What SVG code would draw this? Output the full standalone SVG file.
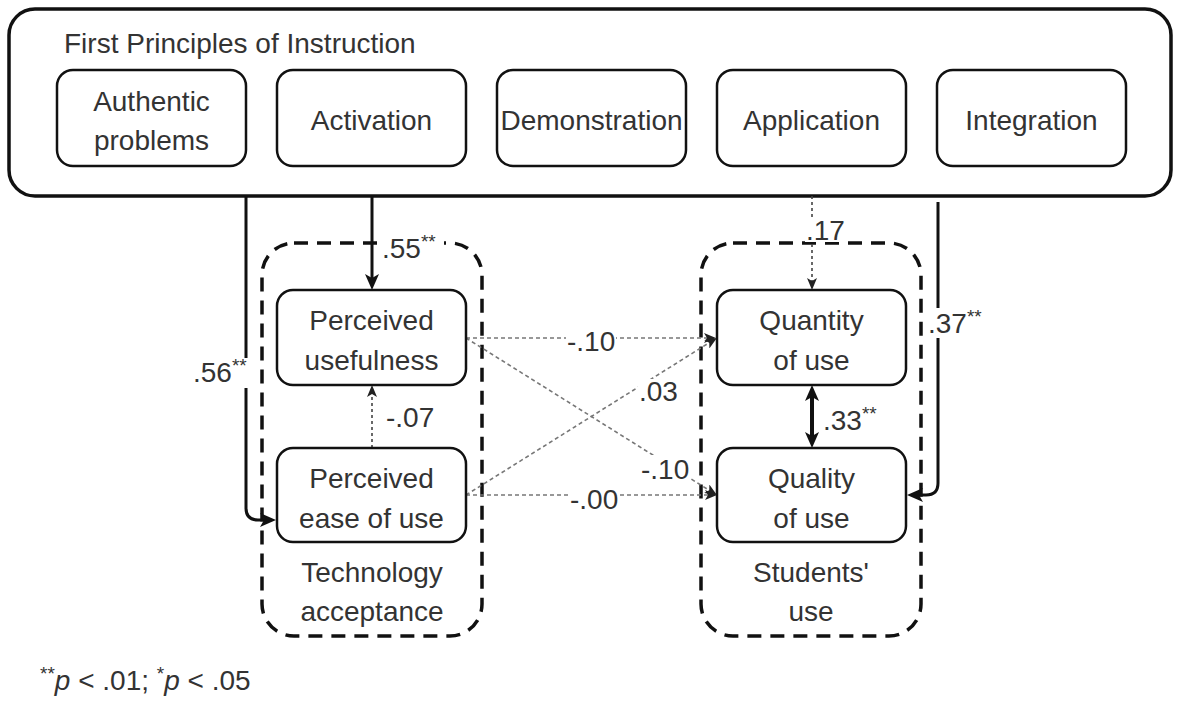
<svg xmlns="http://www.w3.org/2000/svg" width="1177" height="701" viewBox="0 0 1177 701">
  <defs>
    <style>
      text { font-family: "Liberation Sans", Arial, sans-serif; font-size: 28px; fill: #333; }
      .mid { text-anchor: middle; }
      .sup { font-size: 19px; }
      .outer { fill: #fff; stroke: #111; stroke-width: 3.5; }
      .node { fill: #fff; stroke: #111; stroke-width: 2.5; }
      .group { fill: none; stroke: #111; stroke-width: 3.5; stroke-dasharray: 14 9; }
      .solid { fill: none; stroke: #111; stroke-width: 3; }
      .thick { fill: none; stroke: #111; stroke-width: 4; }
      .dot-dark { fill: none; stroke: #444; stroke-width: 1.6; stroke-dasharray: 3 3; }
      .dot-grey { fill: none; stroke: #777; stroke-width: 1.6; stroke-dasharray: 4 3; }
      .bg { fill: #fff; }
    </style>
    <marker id="arrow-solid" viewBox="0 0 16 14" refX="10" refY="7" markerWidth="16" markerHeight="14" markerUnits="userSpaceOnUse" orient="auto-start-reverse">
      <path d="M0,0 L16,7 L0,14 L4,7 Z" fill="#111"/>
    </marker>
    <marker id="arrow-dot" viewBox="0 0 12 10" refX="8" refY="5" markerWidth="12" markerHeight="10" markerUnits="userSpaceOnUse" orient="auto">
      <path d="M0,0 L12,5 L0,10 L3,5 Z" fill="#222"/>
    </marker>
  </defs>

  <rect width="1177" height="701" fill="#fff"/>

  <!-- First Principles of Instruction container -->
  <g id="first-principles">
    <rect class="outer" x="9" y="9" width="1162" height="187" rx="26"/>
    <text x="64" y="53">First Principles of Instruction</text>
  </g>
  <g id="authentic-problems">
    <rect class="node" x="57" y="70" width="189" height="96" rx="16"/>
    <text class="mid" x="151.5" y="111">Authentic</text>
    <text class="mid" x="151.5" y="150">problems</text>
  </g>
  <g id="activation">
    <rect class="node" x="277" y="70" width="189" height="96" rx="16"/>
    <text class="mid" x="371.5" y="130">Activation</text>
  </g>
  <g id="demonstration">
    <rect class="node" x="497" y="70" width="189" height="96" rx="16"/>
    <text class="mid" x="591.5" y="130">Demonstration</text>
  </g>
  <g id="application">
    <rect class="node" x="717" y="70" width="189" height="96" rx="16"/>
    <text class="mid" x="811.5" y="130">Application</text>
  </g>
  <g id="integration">
    <rect class="node" x="937" y="70" width="189" height="96" rx="16"/>
    <text class="mid" x="1031.5" y="130">Integration</text>
  </g>

  <!-- Dashed groupings -->
  <g id="technology-acceptance">
    <rect class="group" x="262" y="243" width="220" height="393" rx="32"/>
    <text class="mid" x="372" y="582">Technology</text>
    <text class="mid" x="372" y="621">acceptance</text>
  </g>
  <g id="students-use">
    <rect class="group" x="701" y="243" width="220" height="393" rx="32"/>
    <text class="mid" x="811" y="582">Students'</text>
    <text class="mid" x="811" y="621">use</text>
  </g>

  <!-- Connectors -->
  <g id="connectors">
    <path class="solid" d="M246,196 V508 Q246,520 258,520 H270" marker-end="url(#arrow-solid)"/>
    <path class="solid" d="M372,196 V284" marker-end="url(#arrow-solid)"/>
    <path class="solid" d="M938,202 V483 Q938,495 926,495 H913" marker-end="url(#arrow-solid)"/>
    <path class="thick" d="M812,391 V442" marker-start="url(#arrow-solid)" marker-end="url(#arrow-solid)"/>
    <path class="dot-dark" d="M812,196 V286" marker-end="url(#arrow-dot)"/>
    <path class="dot-dark" d="M372,448 V389" marker-end="url(#arrow-dot)"/>
    <path class="dot-grey" d="M466,338 H712" marker-end="url(#arrow-dot)"/>
    <path class="dot-grey" d="M466,338 L713.5,493" marker-end="url(#arrow-dot)"/>
    <path class="dot-grey" d="M466,495 L713.5,340" marker-end="url(#arrow-dot)"/>
    <path class="dot-grey" d="M466,495 H713" marker-end="url(#arrow-dot)"/>
  </g>

  <!-- Inner nodes -->
  <g id="perceived-usefulness">
    <rect class="node" x="277" y="290" width="189" height="95" rx="16"/>
    <text class="mid" x="371.5" y="330">Perceived</text>
    <text class="mid" x="371.5" y="370">usefulness</text>
  </g>
  <g id="perceived-ease-of-use">
    <rect class="node" x="277" y="448" width="189" height="94" rx="16"/>
    <text class="mid" x="371.5" y="488">Perceived</text>
    <text class="mid" x="371.5" y="528">ease of use</text>
  </g>
  <g id="quantity-of-use">
    <rect class="node" x="717" y="290" width="189" height="95" rx="16"/>
    <text class="mid" x="811.5" y="330">Quantity</text>
    <text class="mid" x="811.5" y="370">of use</text>
  </g>
  <g id="quality-of-use">
    <rect class="node" x="717" y="448" width="189" height="94" rx="16"/>
    <text class="mid" x="811.5" y="488">Quality</text>
    <text class="mid" x="811.5" y="528">of use</text>
  </g>

  <!-- Path coefficients -->
  <g id="coefficients">
    <rect class="bg" x="190" y="358" width="63" height="30"/>
    <text x="193" y="382">.56<tspan class="sup" dy="-10">**</tspan></text>
    <rect class="bg" x="378" y="233" width="66" height="28"/>
    <text x="382" y="258">.55<tspan class="sup" dy="-10">**</tspan></text>
    <rect class="bg" x="805" y="217" width="40" height="25"/>
    <text x="806" y="240">.17</text>
    <rect class="bg" x="926" y="308" width="60" height="30"/>
    <text x="928" y="333">.37<tspan class="sup" dy="-10">**</tspan></text>
    <rect class="bg" x="821" y="405" width="64" height="30"/>
    <text x="823" y="430">.33<tspan class="sup" dy="-10">**</tspan></text>
    <text x="386" y="427">-.07</text>
    <rect class="bg" x="566" y="327" width="50" height="28"/>
    <text x="567" y="351">-.10</text>
    <rect class="bg" x="638" y="379" width="40" height="25"/>
    <text x="639" y="401">.03</text>
    <rect class="bg" x="640" y="455" width="50" height="27"/>
    <text x="641" y="479">-.10</text>
    <rect class="bg" x="569" y="485" width="50" height="27"/>
    <text x="570" y="509">-.00</text>
  </g>

  <!-- Significance note -->
  <text x="40" y="690"><tspan class="sup" dy="-10">**</tspan><tspan font-style="italic" dy="10">p</tspan> &lt; .01; <tspan class="sup" dy="-10">*</tspan><tspan font-style="italic" dy="10">p</tspan> &lt; .05</text>
</svg>
